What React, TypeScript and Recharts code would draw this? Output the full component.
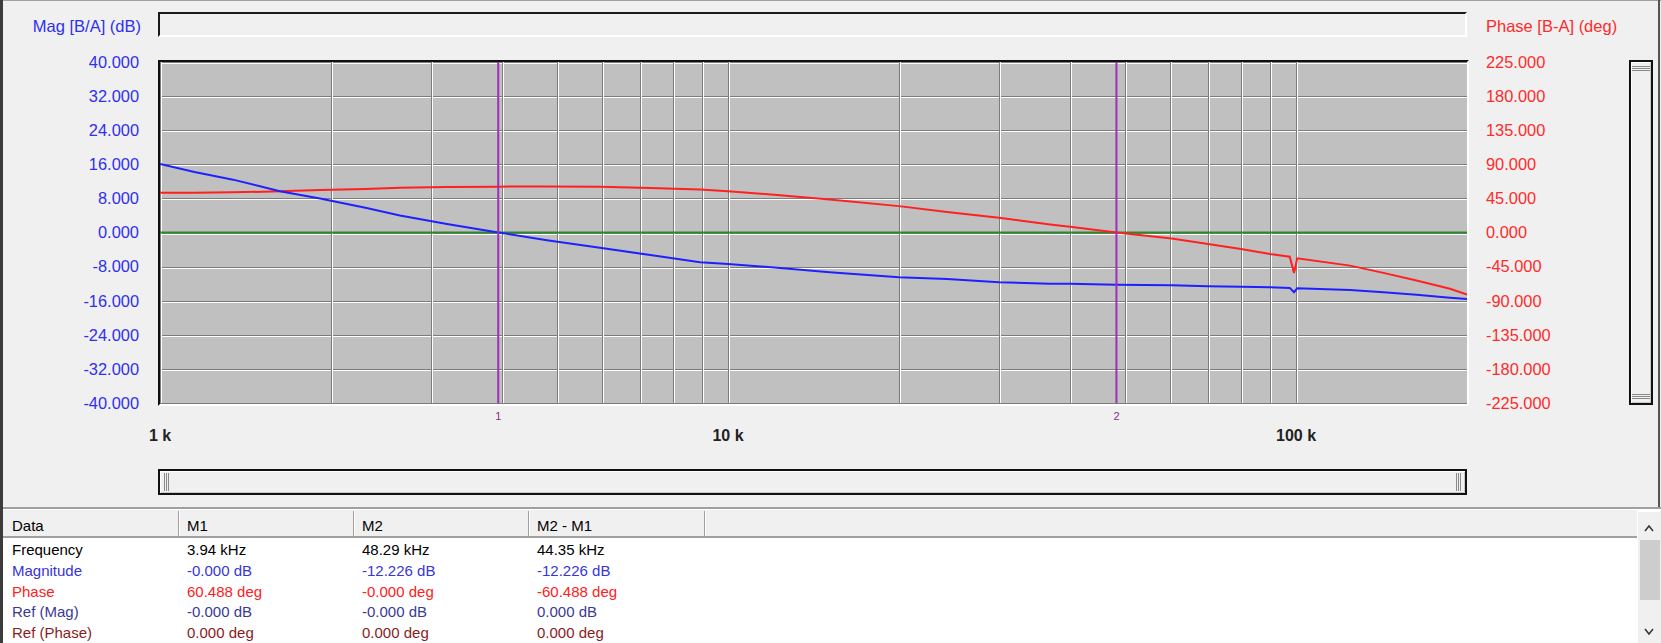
import React from "react";
import {
  ComposedChart,
  Line,
  XAxis,
  YAxis,
  CartesianGrid,
  ReferenceLine,
} from "recharts";

// sweep points (Hz) and the two traces
const freqs = [
  1000, 1150, 1345, 1626, 1913, 2300, 2645, 3200, 3940, 4800, 5950, 7300, 8930,
  10000, 12350, 15100, 20000, 24300, 30000, 36900, 40000, 48290, 60400, 70000,
  80000, 90000, 97500, 99200, 100500, 124500, 142500, 163000, 186700, 200000,
];
const magDb = [
  16.1, 14.2, 12.4, 9.7, 8.0, 5.8, 4.0, 2.0, 0.0, -1.8, -3.6, -5.3, -7.0, -7.4,
  -8.3, -9.3, -10.5, -10.9, -11.7, -12.0, -12.0, -12.23, -12.4, -12.6, -12.75,
  -12.85, -13.0, -14.0, -13.1, -13.5, -14.0, -14.6, -15.3, -15.6,
];
const phaseDeg = [
  52.5, 52.3, 53.0, 54.3, 56.0, 57.5, 59.0, 60.0, 60.5, 60.8, 60.3, 58.8, 56.8,
  54.5, 49.3, 43.6, 34.8, 26.9, 19.4, 10.6, 7.5, 0.0, -7.9, -15.3, -21.9, -28.4,
  -31.9, -53.3, -34.0, -43.7, -53.3, -63.4, -74.3, -81.8,
];

const magTicks = [-40, -32, -24, -16, -8, 0, 8, 16, 24, 32, 40];
const phaseTicks = [-225, -180, -135, -90, -45, 0, 45, 90, 135, 180, 225];
const freqGrid = [
  1000, 2000, 3000, 4000, 5000, 6000, 7000, 8000, 9000, 10000, 20000, 30000,
  40000, 50000, 60000, 70000, 80000, 90000, 100000, 200000,
];
const labelFreqs = [1000, 10000, 100000];
const labelTexts = ["1 k", "10 k", "100 k"];

const markerFreqs = [3940, 48290];
const markerNames = ["1", "2"];

// marker readout table
const headers = ["Data", "M1", "M2", "M2 - M1"];
const rowNames = ["Frequency", "Magnitude", "Phase", "Ref (Mag)", "Ref (Phase)"];
const m1Values = ["3.94 kHz", "-0.000 dB", "60.488 deg", "-0.000 dB", "0.000 deg"];
const m2Values = ["48.29 kHz", "-12.226 dB", "-0.000 deg", "-0.000 dB", "0.000 deg"];
const diffValues = ["44.35 kHz", "-12.226 dB", "-60.488 deg", "0.000 dB", "0.000 deg"];
const rowColors = ["#000000", "#3535d8", "#ff2020", "#3a3a96", "#8a1c1c"];

const BLUE = "#2f2fef";
const RED = "#ff2b2b";
const FONT = '"Liberation Sans", Arial, sans-serif';

const hLine = (p: any) => {
  const y = Math.round(p.y1);
  return (
    <g key={`h-${p.index}`}>
      <line x1={p.x1} x2={p.x2} y1={y + 0.5} y2={y + 0.5} stroke="#7c7c7c" strokeWidth={1} />
      <line x1={p.x1} x2={p.x2} y1={y + 1.5} y2={y + 1.5} stroke="#ffffff" strokeWidth={1} />
    </g>
  );
};

const vLine = (p: any) => {
  const x = Math.round(p.x1);
  return (
    <g key={`v-${p.index}`}>
      <line x1={x + 0.5} x2={x + 0.5} y1={p.y1} y2={p.y2} stroke="#7c7c7c" strokeWidth={1} />
      <line x1={x + 1.5} x2={x + 1.5} y1={p.y1} y2={p.y2} stroke="#ffffff" strokeWidth={1} />
    </g>
  );
};

const Grip = ({ vertical }: { vertical?: boolean }) => (
  <div style={{ display: "flex", flexDirection: vertical ? "column" : "row", gap: 1 }}>
    {[0, 1, 2].map((i) => (
      <div
        key={i}
        style={
          vertical
            ? { height: 1, width: 18, background: "#8a8a8a" }
            : { width: 1, height: 18, background: "#8a8a8a" }
        }
      />
    ))}
  </div>
);

const App = () => {
  const data = freqs.map((f, i) => ({ f, mag: magDb[i], phase: phaseDeg[i] }));
  const colX = [12, 187, 362, 537];
  const sepX = [178, 353, 528, 704];

  return (
    <div
      style={{
        position: "relative",
        width: 1661,
        height: 643,
        background: "#f0f0f0",
        fontFamily: FONT,
        overflow: "hidden",
      }}
    >
      <style>{"body{margin:0}"}</style>

      {/* window frame */}
      <div style={{ position: "absolute", left: 0, top: 0, width: 1661, height: 1, background: "#a0a0a0" }} />
      <div style={{ position: "absolute", left: 0, top: 0, width: 3, height: 643, background: "#3c3c3c" }} />
      <div style={{ position: "absolute", left: 1658, top: 0, width: 2, height: 507, background: "#555" }} />

      <div
        style={{
          position: "absolute",
          left: 0,
          top: 16,
          width: 141,
          textAlign: "right",
          fontSize: 16.5,
          lineHeight: "20px",
          color: BLUE,
        }}
      >
        Mag [B/A] (dB)
      </div>
      <div
        style={{
          position: "absolute",
          left: 1486,
          top: 16,
          fontSize: 16.5,
          lineHeight: "20px",
          color: RED,
          whiteSpace: "nowrap",
        }}
      >
        Phase [B-A] (deg)
      </div>
      <div
        style={{
          position: "absolute",
          left: 158,
          top: 12,
          width: 1309,
          height: 25,
          boxSizing: "border-box",
          borderTop: "2px solid #1a1a1a",
          borderLeft: "2px solid #1a1a1a",
          borderRight: "2px solid #ffffff",
          borderBottom: "2px solid #ffffff",
          background: "#f0f0f0",
        }}
      />

      <div style={{ position: "absolute", left: 0, top: 0 }}>
        <ComposedChart
          width={1661}
          height={470}
          data={data}
          margin={{ top: 62, right: 0, bottom: 0, left: 0 }}
        >
          <CartesianGrid
            xAxisId="freq"
            yAxisId="mag"
            fill="#c0c0c0"
            fillOpacity={1}
            horizontal={hLine}
            vertical={vLine}
          />
          <XAxis
            xAxisId="freq"
            dataKey="f"
            type="number"
            scale="log"
            domain={[1000, 200000]}
            allowDataOverflow
            ticks={freqGrid}
            interval={0}
            height={67}
            axisLine={false}
            tickLine={false}
            tickSize={0}
            tickMargin={27}
            tickFormatter={(v: number) => {
              const i = labelFreqs.indexOf(v);
              return i >= 0 ? labelTexts[i] : "";
            }}
            tick={{ fill: "#222", fontSize: 16, fontWeight: "bold", fontFamily: FONT }}
          />
          <YAxis
            yAxisId="mag"
            orientation="left"
            width={160}
            domain={[-40, 40]}
            ticks={magTicks}
            interval={0}
            axisLine={false}
            tickLine={false}
            tickSize={0}
            tickMargin={21}
            tickFormatter={(v: number) => v.toFixed(3)}
            tick={{ fill: BLUE, fontSize: 16.4, fontFamily: FONT }}
          />
          <YAxis
            yAxisId="phase"
            orientation="right"
            width={194}
            domain={[-225, 225]}
            ticks={phaseTicks}
            interval={0}
            axisLine={false}
            tickLine={false}
            tickSize={0}
            tickMargin={19}
            tickFormatter={(v: number) => v.toFixed(3)}
            tick={{ fill: RED, fontSize: 16.4, fontFamily: FONT, textAnchor: "start" }}
          />
          <ReferenceLine xAxisId="freq" yAxisId="mag" y={0} stroke="#2a8a2a" strokeWidth={2} />
          <Line
            xAxisId="freq"
            yAxisId="phase"
            dataKey="phase"
            type="linear"
            stroke="#ff2020"
            strokeWidth={2}
            dot={false}
            isAnimationActive={false}
          />
          <Line
            xAxisId="freq"
            yAxisId="mag"
            dataKey="mag"
            type="linear"
            stroke="#2020ff"
            strokeWidth={2}
            dot={false}
            isAnimationActive={false}
          />
          {markerFreqs.map((f, i) => (
            <ReferenceLine
              key={f}
              xAxisId="freq"
              yAxisId="mag"
              x={f}
              stroke="#9b30b8"
              strokeWidth={2}
              label={{
                value: markerNames[i],
                position: "bottom",
                offset: 9,
                fill: "#8a2a8a",
                fontSize: 11,
                fontFamily: FONT,
              }}
            />
          ))}
        </ComposedChart>
      </div>

      {/* plot frame */}
      <div
        style={{
          position: "absolute",
          left: 158,
          top: 60,
          width: 1311,
          height: 346,
          boxSizing: "border-box",
          borderTop: "2px solid #101010",
          borderLeft: "2px solid #101010",
          borderRight: "2px solid #ffffff",
          borderBottom: "2px solid #ffffff",
          pointerEvents: "none",
        }}
      />

      {/* vertical scrollbar */}
      <div
        style={{
          position: "absolute",
          left: 1629,
          top: 60,
          width: 24,
          height: 345,
          boxSizing: "border-box",
          border: "2px solid #111",
          boxShadow: "inset 1px 1px 0 #fff, inset -1px -1px 0 #c8c8c8",
          background: "#f0f0f0",
          display: "flex",
          flexDirection: "column",
          justifyContent: "space-between",
          alignItems: "center",
          padding: "4px 0",
        }}
      >
        <Grip vertical />
        <Grip vertical />
      </div>

      {/* horizontal scrollbar */}
      <div
        style={{
          position: "absolute",
          left: 158,
          top: 469,
          width: 1309,
          height: 26,
          boxSizing: "border-box",
          border: "2px solid #111",
          boxShadow: "inset 1px 1px 0 #fff, inset -1px -1px 0 #c8c8c8",
          background: "#f0f0f0",
          display: "flex",
          justifyContent: "space-between",
          alignItems: "center",
          padding: "0 4px",
        }}
      >
        <Grip />
        <Grip />
      </div>

      {/* readout table */}
      <div
        style={{
          position: "absolute",
          left: 3,
          top: 507,
          width: 1658,
          height: 136,
          background: "#ffffff",
          borderTop: "2px solid #a0a0a0",
          boxSizing: "border-box",
          fontSize: 15,
        }}
      >
        <div
          style={{
            position: "absolute",
            left: 0,
            top: 0,
            width: 1634,
            height: 29,
            background: "#f0f0f0",
            borderTop: "1px solid #ffffff",
            borderBottom: "2px solid #a0a0a0",
            boxSizing: "border-box",
          }}
        />
        {sepX.map((x) => (
          <div
            key={x}
            style={{
              position: "absolute",
              left: x - 3,
              top: 2,
              width: 1,
              height: 25,
              background: "#a0a0a0",
              borderRight: "1px solid #ffffff",
            }}
          />
        ))}
        {headers.map((h, i) => (
          <div
            key={h}
            style={{ position: "absolute", left: colX[i] - 3, top: 7, lineHeight: "20px", color: "#000" }}
          >
            {h}
          </div>
        ))}
        {rowNames.map((name, r) => {
          const cells = [name, m1Values[r], m2Values[r], diffValues[r]];
          return cells.map((c, i) => (
            <div
              key={`${r}-${i}`}
              style={{
                position: "absolute",
                left: colX[i] - 3,
                top: 31 + r * 20.8,
                lineHeight: "20px",
                color: rowColors[r],
                whiteSpace: "nowrap",
              }}
            >
              {c}
            </div>
          ));
        })}

        {/* table scrollbar */}
        <div
          style={{
            position: "absolute",
            left: 1635,
            top: 3,
            width: 23,
            height: 131,
            background: "#f0f0f0",
          }}
        >
          <svg width={23} height={131} style={{ display: "block" }}>
            <polyline points="7,19 11,14 15,19" fill="none" stroke="#333" strokeWidth={1.5} />
            <rect x={2} y={28} width={20} height={60} fill="#cdcdcd" />
            <polyline points="7,117 11,122 15,117" fill="none" stroke="#333" strokeWidth={1.5} />
          </svg>
        </div>
      </div>
    </div>
  );
};

export default App;
